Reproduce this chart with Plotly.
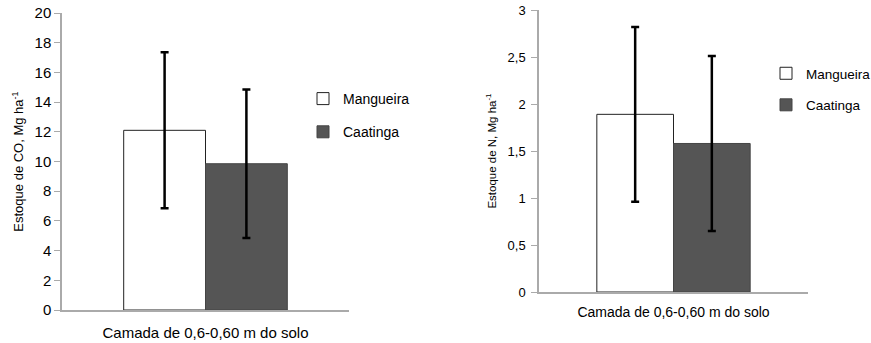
import plotly.graph_objects as go

categories = ["Camada de 0,6-0,60 m do solo"]
series_names = ["Mangueira", "Caatinga"]
co_values = [12.1, 9.85]
co_errors = [5.25, 5.0]
n_values = [1.89, 1.58]
n_errors = [0.93, 0.93]
y1_ticks = [0, 2, 4, 6, 8, 10, 12, 14, 16, 18, 20]
y2_ticks = [0, 0.5, 1, 1.5, 2, 2.5, 3]

fills = ["#ffffff", "#555555"]
lines = ["#222222", "#444444"]
FONT = "Liberation Sans, Arial, Helvetica, sans-serif"

fig = go.Figure()
for i, name in enumerate(series_names):
    fig.add_trace(go.Bar(
        x=categories, y=[co_values[i]], name=name,
        marker=dict(color=fills[i], line=dict(color=lines[i], width=1)),
        error_y=dict(type="data", array=[co_errors[i]], color="black", thickness=2.5, width=4),
        xaxis="x", yaxis="y", legend="legend", legendgroup="l" + name,
    ))
for i, name in enumerate(series_names):
    fig.add_trace(go.Bar(
        x=categories, y=[n_values[i]], name=name,
        marker=dict(color=fills[i], line=dict(color=lines[i], width=1)),
        error_y=dict(type="data", array=[n_errors[i]], color="black", thickness=2.5, width=4),
        xaxis="x2", yaxis="y2", legend="legend2", legendgroup="r" + name,
    ))

axis_common = dict(showline=True, linecolor="#aaaaaa", linewidth=1.5, showgrid=False,
                   zeroline=False, automargin=False)

fig.update_layout(
    width=871, height=343,
    margin=dict(l=0, r=0, t=0, b=0, autoexpand=False),
    paper_bgcolor="white", plot_bgcolor="white",
    separators=",.",
    barmode="group", bargap=0.43, bargroupgap=0,
    font=dict(family=FONT, color="black"),
    xaxis=dict(domain=[62/871, 349/871], anchor="y", ticks="", ticklabelstandoff=8,
               tickfont=dict(size=15), **axis_common),
    yaxis=dict(domain=[33/343, 330/343], anchor="x", range=[0, 20], tickvals=y1_ticks,
               ticks="outside", ticklen=6, tickcolor="#aaaaaa", tickfont=dict(size=15),
               title=dict(text="Estoque de CO, Mg ha<sup>-1</sup>", font=dict(size=13), standoff=8),
               **axis_common),
    xaxis2=dict(domain=[539/871, 808/871], anchor="y2", ticks="", ticklabelstandoff=6,
                tickfont=dict(size=14), **axis_common),
    yaxis2=dict(domain=[51/343, 333/343], anchor="x2", range=[0, 3], tickvals=y2_ticks,
                ticks="outside", ticklen=6, tickcolor="#aaaaaa", tickfont=dict(size=13),
                ticklabelstandoff=3,
                title=dict(text="Estoque de N, Mg ha<sup>-1</sup>", font=dict(size=11.5), standoff=9),
                **axis_common),
    legend=dict(x=303/871, y=1 - 83/343, xanchor="left", yanchor="top",
                font=dict(size=14), tracegroupgap=12, traceorder="grouped",
                bgcolor="rgba(0,0,0,0)", itemwidth=30),
    legend2=dict(x=766/871, y=1 - 58/343, xanchor="left", yanchor="top",
                 font=dict(size=13.5), tracegroupgap=11, traceorder="grouped",
                 bgcolor="rgba(0,0,0,0)", itemwidth=30),
)

fig.write_html("out.html", config={"displayModeBar": False},
               post_script="document.body.style.margin='0';")
